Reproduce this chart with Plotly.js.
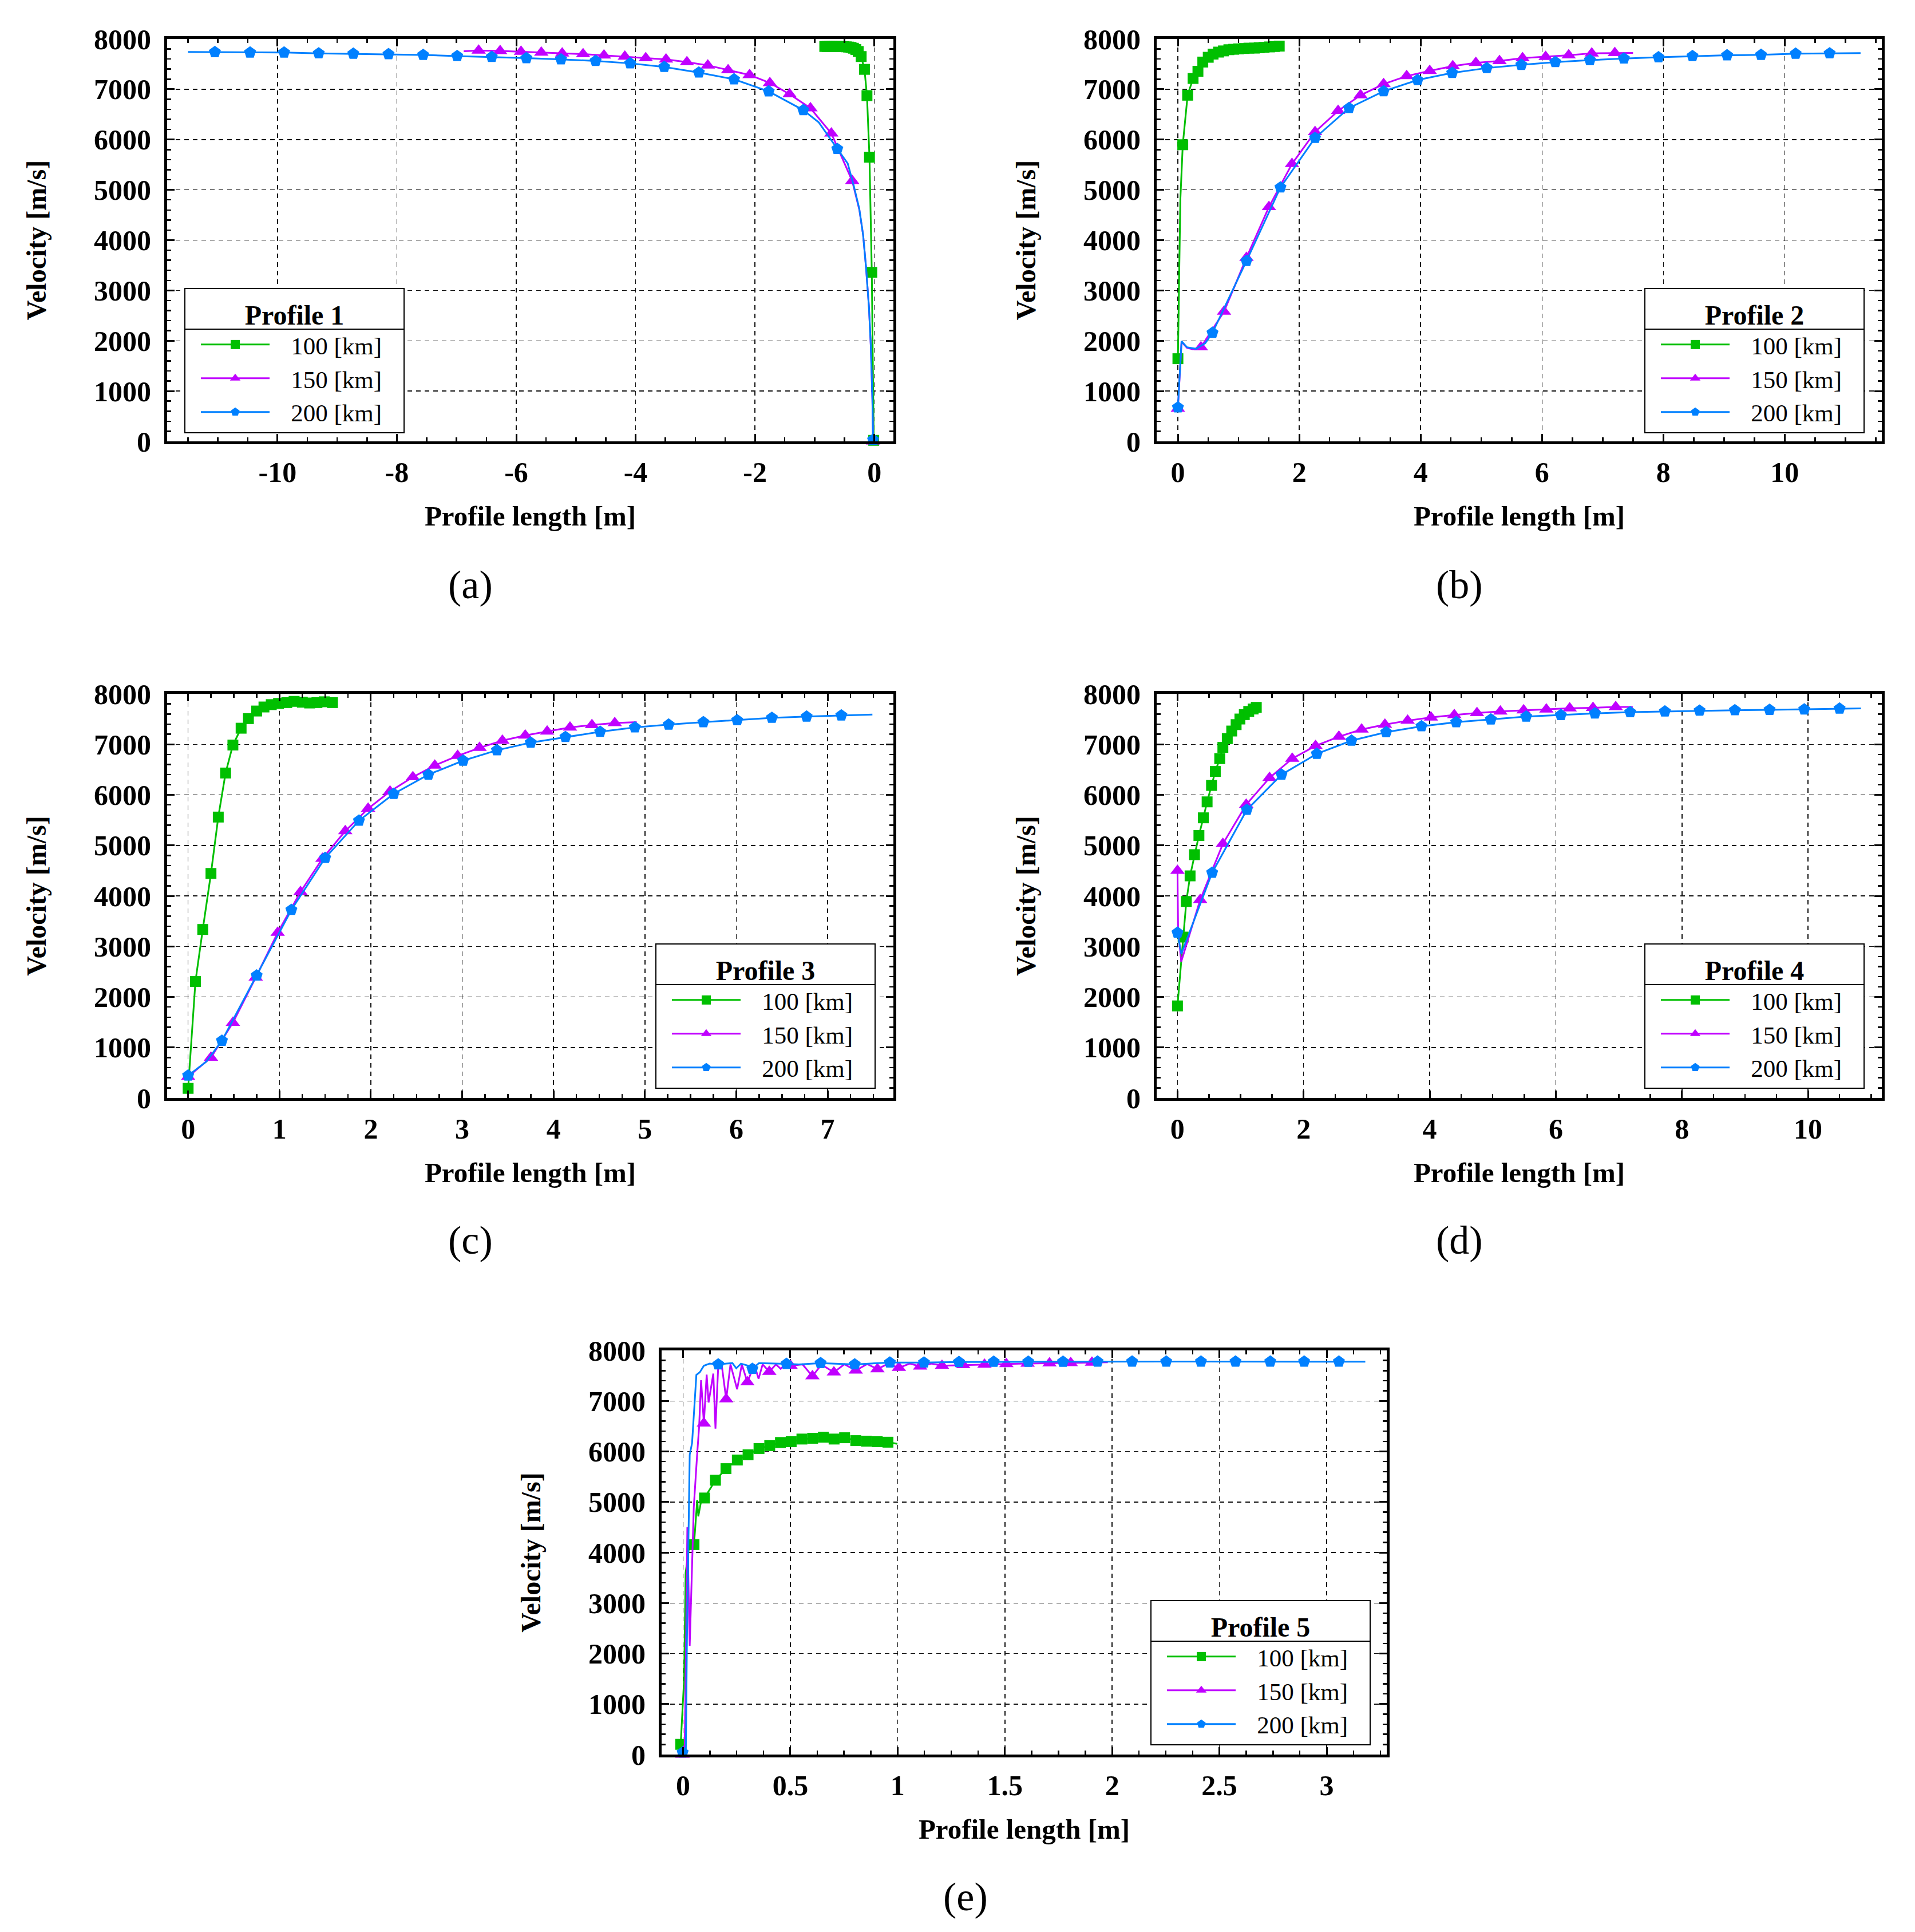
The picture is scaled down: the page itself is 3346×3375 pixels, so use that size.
<!DOCTYPE html>
<html>
<head>
<meta charset="utf-8">
<script src="https://cdn.plot.ly/plotly-3.0.1.min.js"></script>
<style>html,body{margin:0;padding:0;background:#fff;}</style>
</head>
<body>
<div id="chart" style="width:3346px;height:3375px"></div>
<script>
// values: x = profile length [m], y = velocity [m/s]
// m* = points carrying a marker, e* = extra points on the curve between markers

const seriesNames = ['100 [km]', '150 [km]', '200 [km]'];
const profileNames = ['Profile 1', 'Profile 2', 'Profile 3', 'Profile 4', 'Profile 5'];
const captions = ['(a)', '(b)', '(c)', '(d)', '(e)'];
const xTicksA = [-10, -8, -6, -4, -2, 0];

// (a) Profile 1
const a100mx = [-0.83, -0.79, -0.75, -0.71, -0.67, -0.63, -0.59, -0.55, -0.51, -0.47, -0.43, -0.39, -0.35, -0.31, -0.27, -0.22, -0.165, -0.123, -0.081, -0.042, -0.01];
const a100my = [7850, 7850, 7850, 7850, 7850, 7850, 7850, 7848, 7846, 7843, 7838, 7830, 7815, 7790, 7750, 7650, 7395, 6873, 5649, 3360, 20];
const a100ex = [];
const a100ey = [];
const a150mx = [-6.63, -6.27, -5.92, -5.58, -5.23, -4.88, -4.53, -4.18, -3.83, -3.49, -3.14, -2.79, -2.45, -2.09, -1.75, -1.42, -1.07, -0.72, -0.37, -0.02];
const a150my = [7769, 7761, 7746, 7730, 7714, 7698, 7674, 7650, 7618, 7594, 7539, 7475, 7380, 7284, 7125, 6902, 6624, 6123, 5177, 0];
const a150ex = [-6.88, -0.25, -0.187, -0.139, -0.09, -0.058, -0.032];
const a150ey = [7755, 4600, 4098, 3465, 2674, 1883, 828];
const a200mx = [-11.05, -10.46, -9.89, -9.31, -8.73, -8.14, -7.56, -6.99, -6.41, -5.83, -5.25, -4.67, -4.09, -3.52, -2.94, -2.35, -1.77, -1.19, -0.62, -0.02];
const a200my = [7738, 7730, 7730, 7714, 7706, 7698, 7682, 7660, 7642, 7618, 7594, 7563, 7515, 7443, 7332, 7197, 6958, 6585, 5813, 30];
const a200ex = [-11.5, -0.93, -0.445, -0.348, -0.252, -0.187, -0.139, -0.09, -0.058, -0.032];
const a200ey = [7740, 6340, 5522, 5100, 4626, 4098, 3465, 2674, 1883, 828];

// (b) Profile 2
const b100mx = [0, 0.08, 0.16, 0.25, 0.33, 0.41, 0.5, 0.58, 0.67, 0.75, 0.84, 0.92, 1.0, 1.09, 1.17, 1.26, 1.34, 1.42, 1.51, 1.59, 1.67];
const b100my = [1643, 5897, 6881, 7214, 7357, 7540, 7635, 7698, 7738, 7762, 7786, 7794, 7802, 7810, 7817, 7817, 7825, 7833, 7841, 7849, 7857];
const b100ex = [0.04];
const b100ey = [4800];
const b150mx = [0, 0.38, 0.76, 1.13, 1.5, 1.88, 2.26, 2.64, 3.01, 3.39, 3.77, 4.15, 4.53, 4.91, 5.3, 5.68, 6.06, 6.44, 6.82, 7.2];
const b150my = [651, 1873, 2579, 3651, 4659, 5516, 6151, 6571, 6881, 7103, 7262, 7365, 7460, 7524, 7563, 7619, 7643, 7675, 7714, 7722];
const b150ex = [0.06, 0.15, 0.25, 7.5];
const b150ey = [1980, 1860, 1830, 7720];
const b200mx = [0, 0.57, 1.13, 1.69, 2.26, 2.82, 3.39, 3.95, 4.52, 5.09, 5.66, 6.22, 6.79, 7.35, 7.92, 8.48, 9.05, 9.61, 10.18, 10.74];
const b200my = [675, 2159, 3587, 5048, 6032, 6627, 6960, 7183, 7325, 7421, 7484, 7540, 7579, 7611, 7635, 7659, 7675, 7683, 7706, 7714];
const b200ex = [0.06, 0.15, 0.3, 0.45, 11.25];
const b200ey = [1990, 1870, 1840, 1950, 7718];

// (c) Profile 3
const c100mx = [0, 0.08, 0.16, 0.25, 0.33, 0.41, 0.49, 0.58, 0.66, 0.75, 0.83, 0.91, 0.99, 1.08, 1.16, 1.25, 1.33, 1.41, 1.49, 1.58];
const c100my = [190, 2305, 3335, 4444, 5560, 6432, 6986, 7319, 7509, 7659, 7739, 7786, 7810, 7826, 7850, 7834, 7818, 7826, 7842, 7826];
const c100ex = [];
const c100ey = [];
const c150mx = [0, 0.25, 0.49, 0.74, 0.98, 1.23, 1.47, 1.72, 1.97, 2.21, 2.46, 2.7, 2.95, 3.19, 3.44, 3.69, 3.93, 4.18, 4.42, 4.67];
const c150my = [420, 800, 1489, 2384, 3271, 4079, 4737, 5283, 5727, 6067, 6352, 6582, 6772, 6931, 7073, 7176, 7255, 7335, 7382, 7422];
const c150ex = [0.12, 4.91];
const c150ey = [600, 7440];
const c200mx = [0, 0.37, 0.75, 1.13, 1.5, 1.87, 2.25, 2.63, 3.01, 3.38, 3.75, 4.13, 4.51, 4.89, 5.26, 5.64, 6.01, 6.39, 6.77, 7.15];
const c200my = [444, 1133, 2424, 3723, 4752, 5489, 6020, 6400, 6677, 6883, 7034, 7145, 7248, 7335, 7390, 7438, 7477, 7525, 7549, 7572];
const c200ex = [0.2, 7.49];
const c200ey = [720, 7590];

// (d) Profile 4
const d100mx = [0, 0.09, 0.14, 0.2, 0.27, 0.34, 0.41, 0.47, 0.54, 0.6, 0.67, 0.72, 0.79, 0.86, 0.93, 0.99, 1.06, 1.13, 1.2, 1.25];
const d100my = [1822, 3184, 3889, 4396, 4816, 5196, 5545, 5861, 6186, 6463, 6717, 6939, 7113, 7263, 7390, 7501, 7588, 7651, 7699, 7731];
const d100ex = [];
const d100ey = [];
const d150mx = [0, 0.36, 0.72, 1.09, 1.46, 1.82, 2.19, 2.56, 2.92, 3.29, 3.65, 4.02, 4.39, 4.75, 5.12, 5.49, 5.85, 6.22, 6.59, 6.95];
const d150my = [4499, 3921, 5030, 5806, 6337, 6717, 6970, 7152, 7295, 7390, 7469, 7533, 7580, 7620, 7651, 7675, 7691, 7715, 7723, 7739];
const d150ex = [0.01, 0.06, 7.22];
const d150ey = [3300, 2700, 7740];
const d200mx = [0, 0.55, 1.1, 1.65, 2.21, 2.76, 3.31, 3.87, 4.42, 4.97, 5.53, 6.08, 6.62, 7.18, 7.73, 8.28, 8.84, 9.39, 9.94, 10.5];
const d200my = [3271, 4459, 5703, 6400, 6812, 7073, 7240, 7358, 7438, 7493, 7549, 7580, 7612, 7636, 7651, 7667, 7675, 7683, 7691, 7707];
const d200ex = [0.06, 10.84];
const d200ey = [2850, 7710];

// (e) Profile 5
const e100mx = [-0.011, 0.051, 0.1, 0.151, 0.2, 0.253, 0.303, 0.354, 0.404, 0.454, 0.504, 0.554, 0.604, 0.654, 0.704, 0.753, 0.805, 0.855, 0.905, 0.955];
const e100my = [202, 4155, 5078, 5430, 5659, 5830, 5934, 6058, 6115, 6177, 6193, 6245, 6260, 6281, 6245, 6271, 6214, 6203, 6193, 6183];
const e100ex = [0.005, 0.012, 0.03, 0.066, 0.071, 0.088, 0.999];
const e100ey = [1500, 3600, 4170, 5041, 4715, 5104, 6151];
const e150mx = [-0.003, 0.097, 0.201, 0.3, 0.402, 0.501, 0.603, 0.703, 0.805, 0.906, 1.006, 1.105, 1.207, 1.306, 1.405, 1.507, 1.606, 1.708, 1.807, 1.906];
const e150my = [0, 6556, 7033, 7370, 7578, 7697, 7489, 7567, 7604, 7630, 7656, 7682, 7697, 7710, 7720, 7730, 7740, 7745, 7752, 7760];
const e150ex = [0.008, 0.015, 0.02, 0.031, 0.04, 0.05, 0.065, 0.075, 0.084, 0.11, 0.119, 0.141, 0.151, 0.164, 0.18, 0.221, 0.252, 0.274, 0.332, 0.352, 0.371, 0.433, 0.455, 0.477, 0.557, 0.645, 0.752, 0.858, 0.955, 1.057, 1.158, 1.98];
const e150ey = [200, 2600, 4500, 2150, 3500, 4900, 5900, 6500, 7410, 7520, 6970, 7540, 6450, 7700, 7720, 7723, 7230, 7723, 7723, 7437, 7723, 7723, 7635, 7723, 7723, 7720, 7725, 7730, 7735, 7738, 7740, 7765];
const e200mx = [-0.002, 0.164, 0.323, 0.482, 0.641, 0.8, 0.964, 1.123, 1.286, 1.448, 1.609, 1.771, 1.932, 2.093, 2.252, 2.414, 2.575, 2.737, 2.895, 3.057];
const e200my = [40, 7723, 7635, 7733, 7749, 7723, 7760, 7760, 7770, 7775, 7775, 7775, 7778, 7778, 7778, 7778, 7778, 7778, 7778, 7778];
const e200ex = [0.013, 0.018, 0.027, 0.031, 0.042, 0.05, 0.057, 0.062, 0.078, 0.097, 0.124, 0.23, 0.248, 0.27, 0.305, 0.354, 0.54, 3.18];
const e200ey = [60, 2250, 5100, 5934, 6167, 6711, 7178, 7515, 7567, 7697, 7738, 7749, 7645, 7738, 7697, 7749, 7723, 7775];

// ---------------------------------------------------------------------------
const W = 3346, H = 3375;
const SERIF = 'Liberation Serif, Times New Roman, serif';
const COLORS = ['#00bf00', '#c000ff', '#0080ff'];
const SYMBOLS = ['square', 'triangle-up', 'pentagon'];
const MSIZE = [19, 22, 22];
const NB = '\u00a0';

// plot frames in pixels: left, right, top, bottom
const panels = [
  {frame: [292, 1561, 68, 771], range: [-11.85, 0.32], minor: 0.5, leg: [322, 'left', 757], cap: [822, 1021],
   data: [[a100mx, a100my, a100ex, a100ey], [a150mx, a150my, a150ex, a150ey], [a200mx, a200my, a200ex, a200ey]]},
  {frame: [2021, 3288, 68, 771], range: [-0.35, 11.6], dtick: 2, minor: 0.5, leg: [3258, 'right', 757], cap: [2550, 1021],
   data: [[b100mx, b100my, b100ex, b100ey], [b150mx, b150my, b150ex, b150ey], [b200mx, b200my, b200ex, b200ey]]},
  {frame: [292, 1561, 1212, 1918], range: [-0.23, 7.72], dtick: 1, minor: 0.25, leg: [1530, 'right', 1902], cap: [822, 2166],
   data: [[c100mx, c100my, c100ex, c100ey], [c150mx, c150my, c150ex, c150ey], [c200mx, c200my, c200ex, c200ey]]},
  {frame: [2021, 3288, 1212, 1918], range: [-0.33, 11.17], dtick: 2, minor: 0.5, leg: [3258, 'right', 1902], cap: [2550, 2166],
   data: [[d100mx, d100my, d100ex, d100ey], [d150mx, d150my, d150ex, d150ey], [d200mx, d200my, d200ex, d200ey]]},
  {frame: [1156, 2423, 2359, 3065], range: [-0.1, 3.28], dtick: 0.5, minor: 0.125, leg: [2395, 'right', 3049], cap: [1687, 3313],
   data: [[e100mx, e100my, e100ex, e100ey], [e150mx, e150my, e150ex, e150ey], [e200mx, e200my, e200ex, e200ey]]}
];

// markers and extra points together give the drawn curve
function curve(mx, my, ex, ey) {
  const pts = mx.map((x, i) => [x, my[i]]).concat(ex.map((x, i) => [x, ey[i]]));
  pts.sort((p, q) => p[0] - q[0]);
  return {x: pts.map(p => p[0]), y: pts.map(p => p[1])};
}

const axisCommon = {
  showline: true, linewidth: 5, linecolor: '#000', mirror: 'allticks',
  ticks: 'inside', ticklen: 13, tickwidth: 3, tickcolor: '#000',
  showgrid: true, gridcolor: '#111', gridwidth: 1.5, griddash: '8px,7px',
  zeroline: false,
  tickfont: {family: SERIF, size: 50, weight: 'bold', color: '#000'}
};

const traces = [];
const layout = {
  width: W, height: H,
  margin: {l: 0, r: 0, t: 0, b: 0},
  paper_bgcolor: '#fff', plot_bgcolor: '#fff',
  showlegend: true,
  annotations: []
};

panels.forEach((p, k) => {
  const n = k === 0 ? '' : String(k + 1);
  const legId = 'legend' + n;
  const [l, r, t, b] = p.frame;
  const xa = Object.assign({}, axisCommon, {
    domain: [l / W, r / W], range: p.range, anchor: 'y' + n, ticklabelstandoff: 6,
    minor: {ticks: 'inside', ticklen: 7, tickwidth: 2.5, tickcolor: '#000', dtick: p.minor, tick0: 0, showgrid: false},
    title: {text: 'Profile length [m]', standoff: 33, font: {family: SERIF, size: 49, weight: 'bold', color: '#000'}}
  });
  if (k === 0) {
    xa.tickmode = 'array';
    xa.tickvals = xTicksA;
    xa.ticktext = xTicksA.map(String);
  } else {
    xa.tick0 = 0;
    xa.dtick = p.dtick;
  }
  const ya = Object.assign({}, axisCommon, {
    domain: [1 - b / H, 1 - t / H], range: [0, 8000], anchor: 'x' + n, ticklabelstandoff: 13,
    dtick: 1000, tick0: 0, exponentformat: 'none', separatethousands: false,
    minor: {ticks: 'inside', ticklen: 7, tickwidth: 2.5, tickcolor: '#000', dtick: 200, tick0: 0, showgrid: false},
    title: {text: 'Velocity [m/s]', standoff: 70, font: {family: SERIF, size: 48, weight: 'bold', color: '#000'}}
  });
  layout['xaxis' + n] = xa;
  layout['yaxis' + n] = ya;

  const [lx, side, ly] = p.leg;
  layout[legId] = {
    x: lx / W, xanchor: side, y: 1 - ly / H, yanchor: 'bottom',
    bgcolor: 'rgba(255,255,255,0)', bordercolor: '#000', borderwidth: 2,
    itemwidth: 120, indentation: 22, traceorder: 'normal',
    font: {family: SERIF, size: 43, color: '#000'},
    title: {text: profileNames[k], side: 'top center',
      font: {family: SERIF, size: 48, weight: 'bold', color: '#000'}}
  };

  p.data.forEach((s, j) => {
    const c = curve(s[0], s[1], s[2], s[3]);
    const style = {color: COLORS[j], width: 3};
    const mk = {symbol: SYMBOLS[j], size: MSIZE[j], color: COLORS[j], line: {width: 0}};
    traces.push({type: 'scatter', mode: 'lines', x: c.x, y: c.y, xaxis: 'x' + n, yaxis: 'y' + n,
      line: style, showlegend: false, cliponaxis: false, hoverinfo: 'skip'});
    traces.push({type: 'scatter', mode: 'markers', x: s[0], y: s[1], xaxis: 'x' + n, yaxis: 'y' + n,
      marker: mk, showlegend: false, cliponaxis: false, hoverinfo: 'skip'});
    // legend entry (line + marker sample)
    traces.push({type: 'scatter', mode: 'lines+markers', x: [null], y: [null], xaxis: 'x' + n, yaxis: 'y' + n,
      name: NB + NB + NB + seriesNames[j] + NB + NB + NB,
      line: style, marker: mk, legend: legId, showlegend: true});
  });

  layout.annotations.push({
    text: captions[k], xref: 'paper', yref: 'paper', x: p.cap[0] / W, y: 1 - p.cap[1] / H,
    xanchor: 'center', yanchor: 'middle', showarrow: false,
    font: {family: SERIF, size: 70, color: '#000'}
  });
});

Plotly.newPlot('chart', traces, layout, {staticPlot: true}).then(gd => {
  // white backing and the rule under each legend title
  const base = gd.getBoundingClientRect();
  const shapes = [];
  panels.forEach((p, k) => {
    const legId = 'legend' + (k === 0 ? '' : String(k + 1));
    const g = gd.querySelector('g.' + legId);
    if (!g) return;
    const bg = g.querySelector('rect.bg');
    if (!bg) return;
    const box = bg.getBoundingClientRect();
    let tEl = g.querySelector('text.' + legId + 'titletext');
    if (!tEl) tEl = Array.from(g.querySelectorAll('text')).find(el => !el.closest('g.traces'));
    const first = g.querySelector('g.traces');
    const fx = v => (v - base.left) / W;
    const fy = v => 1 - (v - base.top) / H;
    shapes.push({type: 'rect', xref: 'paper', yref: 'paper', layer: 'above',
      x0: fx(box.left), x1: fx(box.right), y0: fy(box.bottom), y1: fy(box.top),
      fillcolor: '#fff', line: {width: 0}});
    if (tEl && first) {
      const yLine = (tEl.getBoundingClientRect().bottom + first.getBoundingClientRect().top) / 2;
      shapes.push({type: 'line', xref: 'paper', yref: 'paper', layer: 'above',
        x0: fx(box.left), x1: fx(box.right), y0: fy(yLine), y1: fy(yLine),
        line: {color: '#000', width: 2}});
    }
  });
  return Plotly.relayout(gd, {shapes: shapes});
});
</script>
</body>
</html>
